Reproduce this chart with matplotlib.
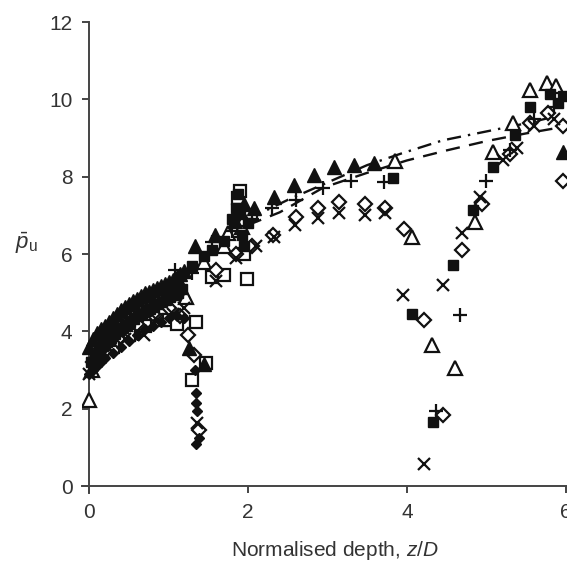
import matplotlib
matplotlib.use("Agg")
import matplotlib.pyplot as plt

plt.rcParams['font.family'] = ['Liberation Sans', 'DejaVu Sans']
plt.rcParams['mathtext.fontset'] = 'custom'
plt.rcParams['mathtext.rm'] = 'Liberation Sans'
plt.rcParams['mathtext.it'] = 'Liberation Sans:italic'

# ---- data ----
# open triangles
x_otri = [0.00, 0.03, 0.08, 0.15, 0.25, 0.35, 0.45, 0.55, 0.65, 0.75, 0.85, 0.95, 1.05, 1.15, 1.22,
          1.45, 1.70, 1.75, 1.92, 1.95, 3.85, 4.06, 4.31, 4.60, 4.86, 5.08, 5.34, 5.55, 5.76, 5.88]
y_otri = [2.22, 3.00, 3.30, 3.55, 3.80, 4.00, 4.20, 4.40, 4.55, 4.70, 4.80, 4.90, 5.00, 5.10, 4.90,
          5.80, 6.20, 6.55, 6.70, 6.90, 8.40, 6.43, 3.64, 3.05, 6.82, 8.63, 9.38, 10.23, 10.42, 10.35]
# filled triangles
x_ftri = [0.00, 0.05, 0.10, 0.15, 0.20, 0.25, 0.30, 0.35, 0.40, 0.45, 0.50, 0.55, 0.60, 0.65, 0.70,
          0.75, 0.80, 0.85, 0.90, 0.95, 1.00, 1.05, 1.10, 1.15, 1.20, 1.26, 1.45,
          1.33, 1.58, 1.83, 1.90, 1.95, 2.08, 2.33, 2.58, 2.83, 3.08, 3.33, 3.58, 5.97]
y_ftri = [3.60, 3.80, 3.95, 4.05, 4.15, 4.25, 4.35, 4.45, 4.55, 4.62, 4.70, 4.78, 4.85, 4.92, 4.98,
          5.03, 5.08, 5.13, 5.18, 5.23, 5.28, 5.33, 5.40, 5.48, 5.55, 3.57, 3.15,
          6.20, 6.50, 6.85, 7.10, 7.30, 7.20, 7.47, 7.78, 8.04, 8.24, 8.29, 8.35, 8.63]
# filled squares
x_fsq = [0.02, 0.07, 0.12, 0.17, 0.22, 0.27, 0.32, 0.37, 0.42, 0.47, 0.52, 0.57, 0.62, 0.67, 0.72,
         0.77, 0.82, 0.87, 0.92, 0.97, 1.02, 1.07, 1.12, 1.17,
         1.30, 1.45, 1.55, 1.70, 1.80, 1.85, 1.88, 1.92, 1.95, 2.00,
         3.82, 4.07, 4.33, 4.58, 4.83, 5.08, 5.36, 5.55, 5.80, 5.90, 5.97]
y_fsq = [3.20, 3.35, 3.50, 3.62, 3.72, 3.82, 3.92, 4.00, 4.08, 4.16, 4.24, 4.32, 4.40, 4.46, 4.52,
         4.58, 4.64, 4.70, 4.76, 4.82, 4.88, 4.94, 5.00, 5.10,
         5.70, 5.95, 6.10, 6.35, 6.90, 7.20, 7.55, 6.50, 6.20, 6.80,
         7.96, 4.46, 1.66, 5.72, 7.15, 8.24, 9.07, 9.80, 10.15, 9.90, 10.10]
# open squares
x_osq = [0.10, 0.30, 0.50, 0.70, 0.90, 1.00, 1.10, 1.35, 1.29, 1.47, 1.55, 1.70, 1.85, 1.88, 1.90,
         1.95, 1.99, 2.04]
y_osq = [3.30, 3.60, 3.90, 4.15, 4.30, 4.30, 4.20, 4.24, 2.74, 3.17, 5.40, 5.45, 6.60, 7.45, 7.62,
         6.00, 5.35, 7.00]
# open diamonds
x_odia = [0.05, 0.20, 0.40, 0.60, 0.80, 1.00, 1.15, 1.25, 1.32, 1.38, 1.60, 1.85, 2.05, 2.31, 2.61,
          2.88, 3.15, 3.47, 3.72, 3.97, 4.22, 4.46, 4.69, 4.94, 5.30, 5.55, 5.78, 5.97, 5.97]
y_odia = [3.20, 3.50, 3.85, 4.20, 4.45, 4.60, 4.40, 3.90, 3.40, 1.45, 5.60, 6.00, 6.20, 6.50, 6.95,
          7.20, 7.34, 7.30, 7.20, 6.66, 4.29, 1.83, 6.10, 7.30, 8.60, 9.40, 9.65, 9.30, 7.90]
# crosses
x_x = [0.00, 0.10, 0.25, 0.45, 0.69, 0.85, 1.05, 1.20, 1.36, 1.60, 1.85, 2.10, 2.33, 2.59, 2.88,
       3.15, 3.47, 3.72, 3.95, 4.22, 4.45, 4.69, 4.92, 5.21, 5.38, 5.60, 5.85]
y_x = [2.90, 3.30, 3.55, 3.80, 3.90, 4.30, 4.45, 4.60, 1.62, 5.30, 5.90, 6.20, 6.43, 6.74, 6.93,
       7.05, 7.00, 7.05, 4.94, 0.57, 5.19, 6.54, 7.47, 8.42, 8.73, 9.30, 9.50]
# plus signs
x_plus = [0.05, 0.20, 0.40, 0.60, 0.80, 1.00, 1.08, 1.30, 1.55, 1.80, 2.05, 2.30, 2.60, 2.95, 3.30,
          3.71, 4.37, 4.67, 5.00, 5.30, 5.60, 5.85]
y_plus = [3.30, 3.75, 4.10, 4.45, 4.75, 4.95, 5.58, 5.50, 6.30, 6.60, 6.90, 7.20, 7.40, 7.70, 7.90,
          7.86, 1.95, 4.42, 7.90, 8.70, 9.50, 9.80]
# small filled diamonds
x_fdia = [0.00, 0.05, 0.10, 0.15, 0.20, 0.30, 0.40, 0.50, 0.60, 0.70, 0.80, 0.90, 1.00, 1.10, 1.20,
          1.33, 1.35, 1.35, 1.36, 1.38, 1.34]
y_fdia = [2.90, 3.00, 3.10, 3.20, 3.30, 3.45, 3.60, 3.75, 3.90, 4.05, 4.15, 4.25, 4.35, 4.40, 4.35,
          3.00, 2.40, 2.15, 1.95, 1.25, 1.10]
# fitted lines
x_dash = [2.00, 2.40, 2.95, 3.50, 4.00, 4.50, 5.00, 5.50, 6.00]
y_dash = [6.75, 7.08, 7.72, 8.10, 8.42, 8.68, 8.92, 9.12, 9.30]
x_dashdot = [2.00, 2.50, 3.00, 3.50, 3.93, 4.45, 5.00, 5.50, 5.75]
y_dashdot = [6.90, 7.40, 7.85, 8.30, 8.60, 8.94, 9.17, 9.38, 9.50]

x_ticks = [0, 2, 4, 6]
y_ticks = [0, 2, 4, 6, 8, 10, 12]

# ---- figure ----
fig = plt.figure(figsize=(5.67, 5.65), dpi=100)
ax = fig.add_axes([0.1446, 0.1274, 0.856, 0.8336])

k = '#111111'
mew = 1.6
ax.plot(x_dash, y_dash, ls=(0, (6, 4)), color=k, lw=1.7, zorder=1)
ax.plot(x_dashdot, y_dashdot, ls=(0, (6, 3, 1, 3)), color=k, lw=1.7, zorder=1)

ax.plot(x_osq, y_osq, ls='none', marker='s', ms=9, mfc='white', mec=k, mew=mew, zorder=2)
ax.plot(x_otri, y_otri, ls='none', marker='^', ms=9.5, mfc='white', mec=k, mew=mew, zorder=3)
ax.plot(x_odia, y_odia, ls='none', marker='D', ms=7, mfc='white', mec=k, mew=mew, zorder=3)
ax.plot(x_x, y_x, ls='none', marker='x', ms=8.5, mec=k, mew=mew, zorder=4)
ax.plot(x_plus, y_plus, ls='none', marker='+', ms=9.5, mec=k, mew=mew, zorder=4)
ax.plot(x_fsq, y_fsq, ls='none', marker='s', ms=7, mfc=k, mec=k, zorder=4)
ax.plot(x_ftri, y_ftri, ls='none', marker='^', ms=9.5, mfc=k, mec=k, zorder=4)
ax.plot(x_fdia, y_fdia, ls='none', marker='D', ms=5.5, mfc=k, mec=k, zorder=5)

ax.set_xlim(-0.09, 6.02)
ax.set_ylim(-0.18, 12.0)
for s in ['top', 'right']:
    ax.spines[s].set_visible(False)
ax.spines['left'].set_position(('data', 0))
ax.spines['bottom'].set_position(('data', 0))
for s in ['left', 'bottom']:
    ax.spines[s].set_color('#444444')
    ax.spines[s].set_linewidth(1.4)
ax.set_xticks(x_ticks)
ax.set_yticks(y_ticks)
ax.tick_params(direction='out', length=5, width=1.4, color='#444444',
               labelsize=15, labelcolor='#333333', pad=7)

fig.text(0.5 * (220 + 449) / 567, 1 - 551 / 565, 'Normalised depth, $z/D$',
         ha='center', va='center', fontsize=15, color='#333333')
fig.text(26 / 567, 1 - 243 / 565, r'$\bar{p}_{\mathrm{u}}$',
         ha='center', va='center', fontsize=16, color='#333333')

fig.savefig('out.png', dpi=100)
